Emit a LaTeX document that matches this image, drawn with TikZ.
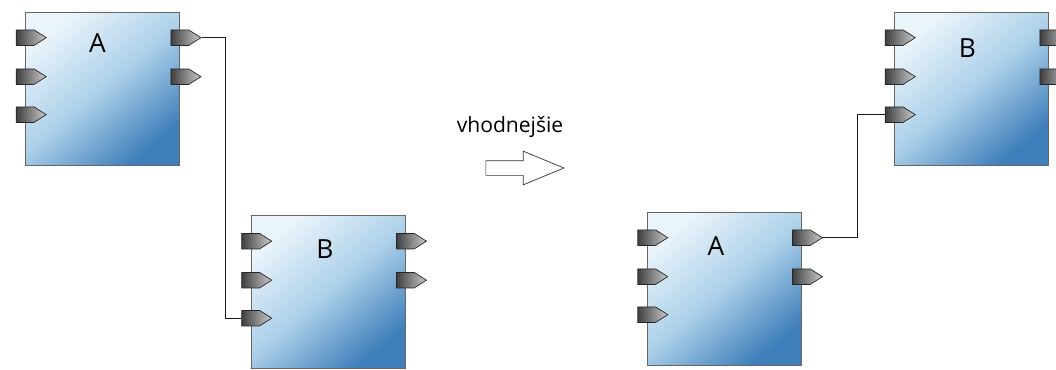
\documentclass[tikz,border=0pt]{standalone}
\usepackage{fontspec}
\setmainfont{Open Sans}
\usetikzlibrary{calc,shapes.symbols,shapes.arrows}
\definecolor{blklight}{RGB}{234,244,251}
\definecolor{blkmid}{RGB}{172,208,233}
\definecolor{blkdark}{RGB}{62,126,186}

\begin{document}
\begin{tikzpicture}[x=0.02cm, y=-0.02cm,
	block/.style={draw=black!60, minimum width=3.08cm, minimum height=3.06cm, inner sep=0pt,
		top color=blklight, bottom color=blkdark, middle color=blkmid, shading angle=40},
	port/.style={signal, signal to=east, signal pointer angle=65, draw=black!85, inner sep=0pt,
		minimum width=0.6cm, minimum height=0.31cm, left color=black!75, right color=black!20},
	lbl/.style={font=\fontsize{15}{15}\selectfont},
	wire/.style={draw=black!90, line width=0.6pt}]
\useasboundingbox (0,0) rectangle (1056,369);

% before
\node[block] (A1) at (102.5,88.5) {};
\node[block] (B1) at (328,292) {};
% after
\node[block] (A2) at (724,288.5) {};
\node[block] (B2) at (971.5,88.5) {};

\foreach \blk/\nm in {A1/a1,B1/b1,A2/a2,B2/b2}{
	\foreach \i/\dy in {1/26,2/65,3/103}
		\node[port] (\nm in\i) at ($(\blk.north west)+(0,\dy)$) {};
	\foreach \i/\dy in {1/26,2/65}
		\node[port] (\nm out\i) at ($(\blk.north east)+(0,\dy)$) {};
}

\node[lbl] (la1) at ($(A1.north)+(-5,31)$) {A};
\node[lbl] (lb1) at ($(B1.north)+(-3,34)$) {B};
\node[lbl] (la2) at ($(A2.north)+(-8,34)$) {A};
\node[lbl] (lb2) at ($(B2.north)+(-4,36)$) {B};

\draw[wire] (a1out1.east) -- ++(24,0) |- (b1in3.west);
\draw[wire] (a2out1.east) -- ++(34,0) |- (b2in3.west);

\node[font=\fontsize{12}{12}\selectfont] (txt) at (510,127) {vhodnejšie};
\node[single arrow, draw=black!80, fill=white, inner sep=0pt, text height=0.28cm,
	minimum height=1.56cm, single arrow head extend=0.19cm, single arrow tip angle=45]
	(arr) at (516,168) {};
\end{tikzpicture}
\end{document}
